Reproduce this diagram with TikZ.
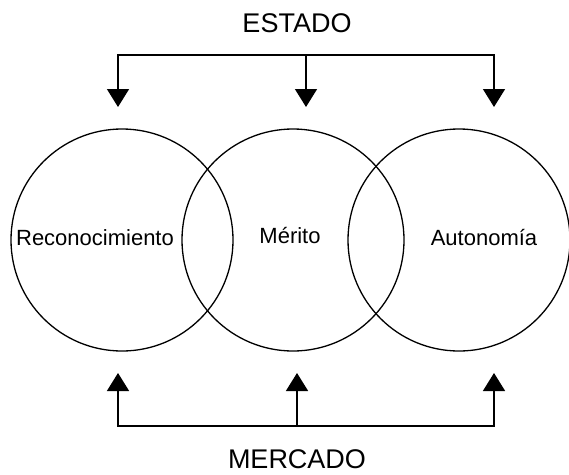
\documentclass[tikz,border=0pt]{standalone}
\usepackage{fontspec}
\setmainfont{Liberation Sans}
\usetikzlibrary{arrows.meta}
\begin{document}
\begin{tikzpicture}[x=1pt,y=-1pt,
  circ/.style={draw,circle,line width=1.3pt,minimum size=222pt,inner sep=0pt},
  conn/.style={line width=1.5pt},
  tip/.style={conn,-{Triangle[width=22pt,length=18pt]}},
  dostips/.style={conn,{Triangle[width=22pt,length=18pt]}-{Triangle[width=22pt,length=18pt]}},
  titulo/.style={font=\fontsize{27}{30}\selectfont},
  etiq/.style={font=\fontsize{22}{26}\selectfont}]
\useasboundingbox (0,0) rectangle (569,474);

% Titulos
\node[titulo] (estado) at (297,23) {ESTADO};
\node[titulo] (mercado) at (297,459) {MERCADO};

% Circulos
\node[circ] (rec) at (122,240) {};
\node[circ] (mer) at (293,240) {};
\node[circ] (aut) at (459,240) {};

\node[etiq] (lrec) at (95,238) {Reconocimiento};
\node[etiq] (lmer) at (290,236) {Mérito};
\node[etiq] (laut) at (484,238) {Autonomía};

% Estado
\coordinate (e1) at (118,55);
\coordinate (e2) at (306,55);
\coordinate (e3) at (494,55);
\coordinate (te1) at (118,107);
\coordinate (te2) at (306,107);
\coordinate (te3) at (494,107);
\draw[dostips] (te1) -- (e1) -- (e3) -- (te3);
\draw[tip] (e2) -- (te2);

% Mercado
\coordinate (m1) at (118,426);
\coordinate (m2) at (297,426);
\coordinate (m3) at (494,426);
\coordinate (tm1) at (118,373);
\coordinate (tm2) at (297,373);
\coordinate (tm3) at (494,373);
\draw[dostips] (tm1) -- (m1) -- (m3) -- (tm3);
\draw[tip] (m2) -- (tm2);

\end{tikzpicture}
\end{document}
